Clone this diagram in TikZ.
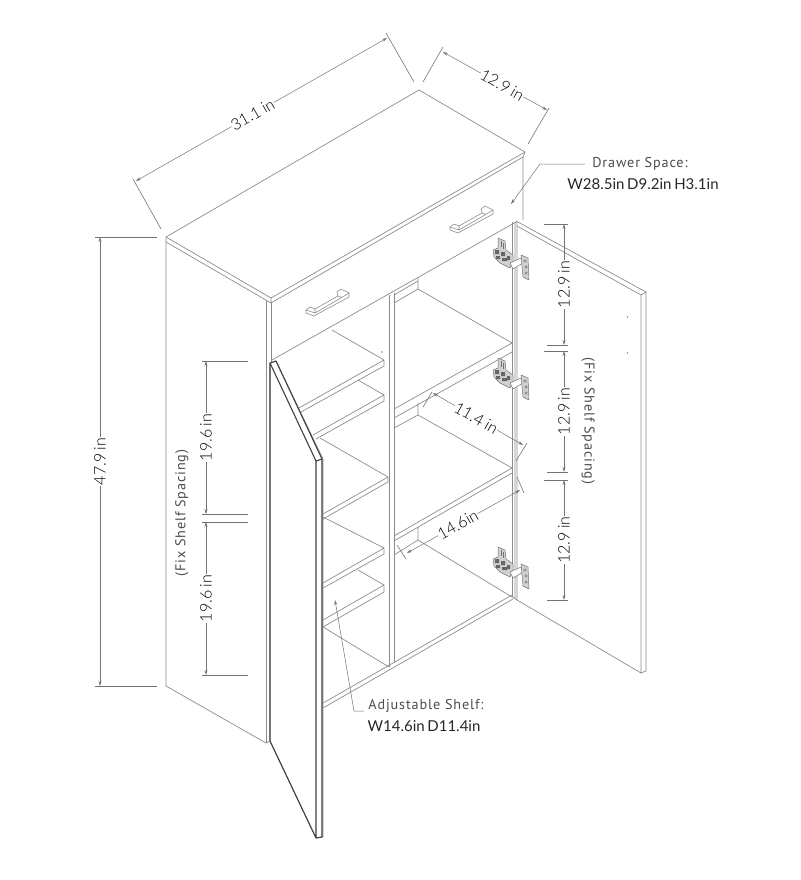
\documentclass[tikz,border=0pt]{standalone}
\usepackage{fontspec}
\setmainfont{Lato}[WordSpace=.7]
\newfontfamily\dimfont[WordSpace=.8]{Lato Light}
\newfontfamily\callfont[LetterSpace=6]{PT Sans}
\usetikzlibrary{arrows.meta}
\definecolor{edgegray}{gray}{.55}
\definecolor{dimgray}{gray}{.45}
\tikzset{
  edgeline/.style={draw=edgegray,line width=.7pt,line join=round},
  darkline/.style={draw=black!75,line width=1.1pt,line join=round},
  dimline/.style={draw=dimgray,line width=.5pt,{Stealth[length=5pt,width=3pt]}-{Stealth[length=5pt,width=3pt]}},
  tickline/.style={draw=dimgray,line width=.6pt},
  leaderline/.style={draw=dimgray,line width=.5pt,-{Stealth[length=5pt,width=3pt]}},
  dimtext/.style={fill=white,inner sep=.5pt,text=black,font=\dimfont\fontsize{16}{18}\selectfont},
  calltext/.style={inner sep=0pt,text=black!70,font=\callfont\fontsize{14.2}{16}\selectfont},
  sizetext/.style={inner sep=0pt,text=black!85,font=\fontsize{15}{17}\selectfont},
  hingepart/.style={draw=black!55,fill=black!18,line width=.5pt,line join=round}
}
\begin{document}
\begin{tikzpicture}[x=1pt,y=-1pt]
\useasboundingbox (0,0) rectangle (800,880);
\draw[edgeline] (166,237)--(419,90)--(525,152)--(271,298)--cycle;
\draw[edgeline] (166,237)--(166,242)--(271,303)--(523,157)--(525,152) (271,298)--(271,303);
\draw[edgeline] (166,242)--(166,686)--(266,743)--(270,741);
\draw[edgeline] (266,300)--(266,743) (271,303)--(271,362);
\draw[edgeline] (523,157)--(523,220) (272,360)--(516,222);

\foreach \hx/\hy in {0/0,144/-83} {
\begin{scope}[shift={(\hx,\hy)}]
\draw[edgeline,line width=.6pt] (306,310)--(310,307)--(315,309)--(338,296)--(337,292)--(341,289)--(349,293)--(349,297)--(314,316)--(306,313)--cycle;
\draw[edgeline,line width=.6pt] (315,309)--(315,313)--(346,295)--(349,293) (306,310)--(315,313) (338,296)--(341,297);
\end{scope}
}

\draw[edgeline] (389,295)--(389,667) (394,293)--(394,663);
\draw[edgeline] (394,295)--(418,281) (394,303)--(418,289)--(418,277) (418,289)--(512,343);
\draw[edgeline] (394,409)--(512,343) (394,418)--(512,352) (418,403)--(418,415) (394,428)--(418,415)--(512,468);
\draw[edgeline] (394,536)--(512,468) (394,541)--(512,473) (418,527)--(418,540) (394,555)--(418,540)--(512,597);
\draw[edgeline] (323,703)--(512,595) (323,708)--(513,599);
\draw[edgeline] (332,330)--(384,360)--(299,408) (384,360)--(384,366)--(301,412);
\draw[edgeline] (358,380)--(384,395)--(313,435) (384,395)--(384,401)--(316,439);
\draw[edgeline] (320,438)--(388,477)--(323,514) (388,477)--(388,482)--(323,519);
\draw[edgeline] (323,517)--(384,548)--(323,583) (384,548)--(384,554)--(323,588);
\draw[edgeline] (358,570)--(384,585)--(323,620) (384,585)--(384,592)--(323,627)--(389,667);

\draw[edgeline] (512.5,222)--(512.5,597)--(517,600) (517,221)--(517,600) (515,222)--(515,598);
\draw[edgeline] (516,221)--(646,292)--(646,671)--(641,673)--(517,600) (517,226)--(641,295)--(641,673) (641,295)--(646,292);
\fill[black!45] (627.5,317) circle (.9) (627.5,353) circle (.9) (382,352) circle (.9);

\foreach \hy in {0,120,309} {
\begin{scope}[shift={(0,\hy)}]
\draw[hingepart] (498,238)--(505,241)--(506,250)--(513,255)--(513,262)--(510,268)--(500,263)--(494,257)--(493,250)--(498,248)--cycle;
\draw[hingepart,fill=white] (510,263)--(521,258)--(523,263)--(513,269)--cycle;
\draw[hingepart] (521,255)--(528,258)--(529,280)--(523,277)--cycle;
\fill[black!60] (495,250) rectangle (499,254) (501,252) rectangle (505,256) (496,256) rectangle (500,259) (502,258) rectangle (507,261) (507,256) rectangle (510,260);
\draw[black!55,line width=.4pt] (501,241)--(501,247) (503,243)--(503,249);
\draw[black!55,line width=.5,fill=white] (525,261) circle (1.2) (526,267) circle (1.2) (526,273) circle (1.2);
\end{scope}
}

\draw[edgeline,fill=white] (270,363)--(276,361)--(323,459)--(323,837)--(316,838)--(270,741)--cycle;
\draw[darkline] (270,363)--(270,741)--(316,838)--(322,837)--(322,459)--(316,461)--(316,838);
\draw[darkline] (270,363)--(276,361)--(322,459) (270,363)--(316,461);

\coordinate (W1) at (136,181); \coordinate (W2) at (387,38);
\draw[dimline] (W1)--(W2) node[dimtext,pos=.465,rotate=29.5] (WT) {31.1 in};
\draw[tickline] (133,179)--(161,229) (386,33)--(414,82);
\coordinate (D1) at (443,52); \coordinate (D2) at (547,110);
\draw[dimline] (D1)--(D2) node[dimtext,pos=.57,rotate=-29.5] (DT) {12.9 in};
\draw[tickline] (443,47)--(423,82) (549,108)--(528,144);

\coordinate (H1) at (100,237); \coordinate (H2) at (100,686);
\draw[dimline] (H1)--(H2) node[dimtext,pos=.5,rotate=90] (HT) {47.9 in};
\draw[tickline] (95,237)--(157,237) (95,686)--(157,686);

\coordinate (L1) at (206,361); \coordinate (L2) at (206,514); \coordinate (L3) at (206,522); \coordinate (L4) at (206,675);
\draw[dimline] (L1)--(L2) node[dimtext,pos=.5,rotate=90] (LT1) {19.6 in};
\draw[dimline] (L3)--(L4) node[dimtext,pos=.5,rotate=90] (LT2) {19.6 in};
\foreach \ly in {361,514,522,675} \draw[tickline] (202,\ly)--(248,\ly);
\node[calltext,rotate=90] (LS) at (182,513) {(Fix Shelf Spacing)};

\coordinate (R1) at (564,224); \coordinate (R2) at (564,345); \coordinate (R3) at (564,351); \coordinate (R4) at (564,472); \coordinate (R5) at (564,480); \coordinate (R6) at (564,600);
\draw[dimline] (R1)--(R2) node[dimtext,pos=.5,rotate=90] (RT1) {12.9 in};
\draw[dimline] (R3)--(R4) node[dimtext,pos=.5,rotate=90] (RT2) {12.9 in};
\draw[dimline] (R5)--(R6) node[dimtext,pos=.5,rotate=90] (RT3) {12.9 in};
\foreach \rx/\ry in {544/224,547/345,544/351,547/472,544/480,547/600} \draw[tickline] (\rx,\ry)--(568,\ry);
\node[calltext,rotate=-90] (RS) at (588,421) {(Fix Shelf Spacing)};

\coordinate (S1) at (433,393); \coordinate (S2) at (523,445);
\draw[dimline] (S1)--(S2) node[dimtext,pos=.48,rotate=-29.5] (ST) {11.4 in};
\draw[tickline] (432,392)--(423,407) (527,443)--(516,461);
\coordinate (A1) at (407,553); \coordinate (A2) at (520,490);
\draw[dimline] (A1)--(A2) node[dimtext,pos=.45,rotate=29.5] (AT) {14.6in};
\draw[tickline] (397,545)--(406,559) (517,477)--(524,493);

\node[calltext] (DS) at (640,164) {Drawer Space:};
\node[sizetext] (DZ) at (643,184) {W28.5in D9.2in H3.1in};
\coordinate (DB) at (540,164); \coordinate (DE) at (511,204);
\draw[leaderline] (DS.west)+(-7,0)--(DB)--(DE);
\node[calltext] (AS) at (426,706) {Adjustable Shelf:};
\node[sizetext] (AZ) at (424,726) {W14.6in D11.4in};
\coordinate (AB) at (354,711); \coordinate (AE) at (335,600);
\draw[leaderline] (364,711)--(AB)--(AE);
\end{tikzpicture}
\end{document}
